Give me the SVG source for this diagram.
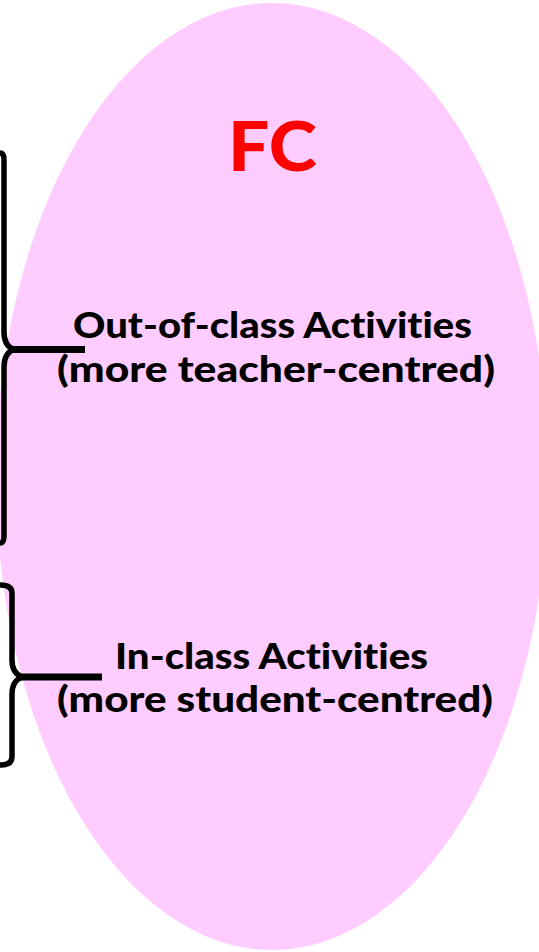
<svg xmlns="http://www.w3.org/2000/svg" width="539" height="952" viewBox="0 0 539 952">
<style>
.lbl{font-family:Lato,"Open Sans","Liberation Sans",sans-serif;font-weight:900;fill:#000;text-anchor:middle;font-variant-ligatures:none}
.brace{fill:none;stroke:#000;stroke-width:5.5;stroke-linejoin:round}
.tick{stroke:#000;stroke-width:7}
</style>
<rect width="539" height="952" fill="#fff"/>
<g id="fc">
<ellipse cx="272" cy="476.5" rx="276" ry="473.5" fill="#FFCCFF"/>
<text x="272.5" y="171" class="lbl" style="fill:#FF0000;font-size:68px" textLength="89" lengthAdjust="spacingAndGlyphs">FC</text>
</g>
<g id="out-of-class">
<text x="272.5" y="338" class="lbl" style="font-size:36px" textLength="399" lengthAdjust="spacingAndGlyphs">Out-of-class Activities</text>
<text x="276" y="382" class="lbl" style="font-size:36px" textLength="438" lengthAdjust="spacingAndGlyphs">(more teacher-centred)</text>
</g>
<g id="in-class">
<text x="271.5" y="669" class="lbl" style="font-size:36px" textLength="313" lengthAdjust="spacingAndGlyphs">In-class Activities</text>
<text x="275" y="712" class="lbl" style="font-size:36px" textLength="436" lengthAdjust="spacingAndGlyphs">(more student-centred)</text>
</g>
<g id="connectors">
<path class="brace" d="M0,153 Q4,153 4,160 L4,332 Q4,346 14,349.5 Q4,353 4,367 L4,536 Q4,543 0,543"/>
<line class="tick" x1="12" y1="349.5" x2="85" y2="349.5"/>
<path class="brace" d="M0,585 Q12,585 12,593 L12,660 Q12,673 22,677 Q12,681 12,694 L12,757 Q12,765 0,765"/>
<line class="tick" x1="20" y1="677" x2="102" y2="677"/>
</g>
</svg>
